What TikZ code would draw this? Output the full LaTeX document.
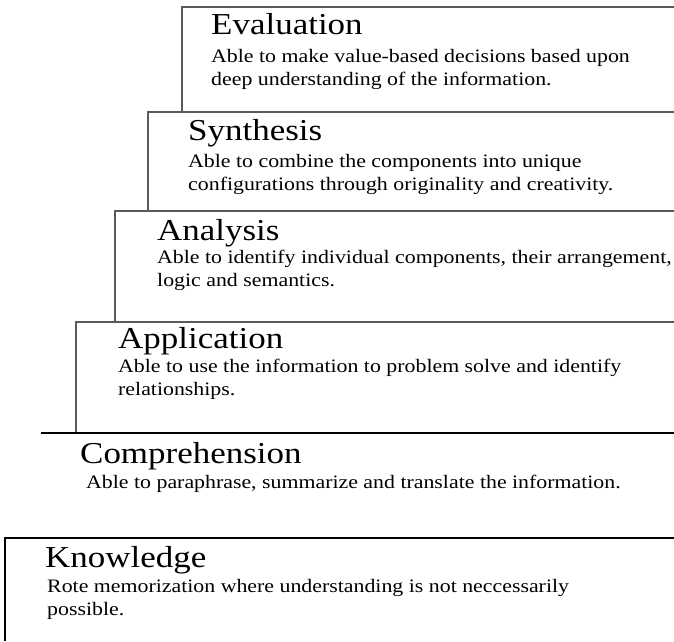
\documentclass[tikz,border=0pt]{standalone}
\usepackage{fontspec}
\setmainfont{Liberation Serif}[FakeStretch=1.15]
\usepackage{tikz}
\usetikzlibrary{positioning}
\definecolor{rule}{HTML}{5A5A5A}

\begin{document}
\begin{tikzpicture}[
      x=1pt, y=-1pt,
      lvltitle/.style={anchor=base west, inner sep=0pt,
                    font=\fontsize{30.4}{36}\selectfont},
      % body nodes sit on the baseline of their last line
      lvlbody/.style={anchor=base west, inner sep=0pt, align=left,
                    font=\fontsize{19}{22.5}\selectfont},
      step edge/.style={draw=rule, line width=1.1pt}
    ]
      \useasboundingbox (0,0) rectangle (674,641);
      % the stepped frames, each one open to the right
      \draw[step edge] (182,112) -- (182,7) -- (674,7);
      \draw[step edge] (148,211) -- (148,112) -- (674,112);
      \draw[step edge] (115,322) -- (115,211) -- (674,211);
      \draw[step edge] (76,433) -- (76,322) -- (674,322);
      \draw[line width=1.1pt] (41,433) -- (674,433);
      \draw[line width=2pt] (674,538) -- (5,538) -- (5,641);

      \node[lvltitle] (evaluation) at (211,34) {Evaluation};
      \node[lvlbody] (evaluationtxt) at (211,85) {Able to make value-based decisions based upon\\deep understanding of the information.};

      \node[lvltitle] (synthesis) at (188,140) {Synthesis};
      \node[lvlbody] (synthesistxt) at (188,190) {Able to combine the components into unique\\configurations through originality and creativity.};

      \node[lvltitle] (analysis) at (157,240) {Analysis};
      \node[lvlbody] (analysistxt) at (157,286) {Able to identify individual components, their arrangement,\\logic and semantics.};

      \node[lvltitle] (application) at (118,348) {Application};
      \node[lvlbody] (applicationtxt) at (118,395) {Able to use the information to problem solve and identify\\relationships.};

      \node[lvltitle] (comprehension) at (80,463) {Comprehension};
      \node[lvlbody] (comprehensiontxt) at (86,488) {Able to paraphrase, summarize and translate the information.};

      \node[lvltitle] (knowledge) at (45,567) {Knowledge};
      \node[lvlbody] (knowledgetxt) at (47,615) {Rote memorization where understanding is not neccessarily\\possible.};
    \end{tikzpicture}
\end{document}
